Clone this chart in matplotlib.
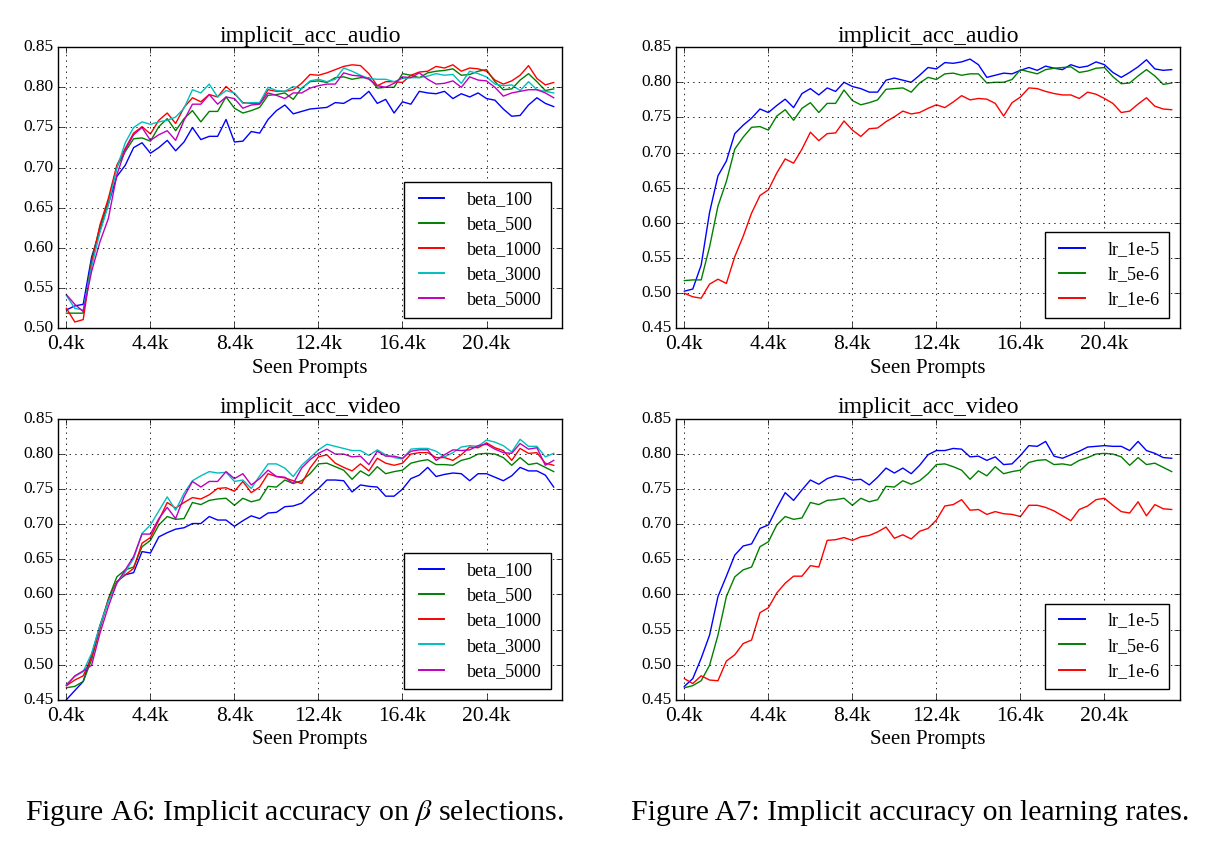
import numpy as np
import matplotlib
matplotlib.use("Agg")
import matplotlib.pyplot as plt

plt.style.use("classic")
plt.rcParams["font.family"] = ["Liberation Serif", "DejaVu Serif"]
plt.rcParams["mathtext.fontset"] = "stix"

# seen prompts: 0.4k .. 23.6k, one point every 400
steps = np.arange(1, 60) * 400
tick_pos = [400, 4400, 8400, 12400, 16400, 20400]
tick_lab = ["0.4k", "4.4k", "8.4k", "12.4k", "16.4k", "20.4k"]

beta_labels = ["beta_100", "beta_500", "beta_1000", "beta_3000", "beta_5000"]
beta_colors = ["b", "g", "r", "c", "m"]
lr_labels = ["lr_1e-5", "lr_5e-6", "lr_1e-6"]
lr_colors = ["b", "g", "r"]

# --- implicit_acc_audio, beta sweep
audio_beta100 = [0.523, 0.528, 0.530, 0.589, 0.622, 0.655, 0.689, 0.703, 0.725, 0.731,
                 0.718, 0.725, 0.734, 0.721, 0.732, 0.750, 0.735, 0.739, 0.739, 0.760,
                 0.732, 0.733, 0.745, 0.743, 0.760, 0.771, 0.778, 0.767, 0.770, 0.773,
                 0.774, 0.775, 0.781, 0.780, 0.786, 0.786, 0.795, 0.780, 0.785, 0.768,
                 0.782, 0.779, 0.795, 0.793, 0.792, 0.795, 0.786, 0.792, 0.788, 0.793,
                 0.786, 0.784, 0.773, 0.764, 0.765, 0.778, 0.787, 0.780, 0.776]
audio_beta500 = [0.519, 0.519, 0.519, 0.585, 0.627, 0.658, 0.701, 0.720, 0.736, 0.737,
                 0.733, 0.751, 0.761, 0.746, 0.761, 0.771, 0.757, 0.770, 0.770, 0.788,
                 0.774, 0.768, 0.771, 0.775, 0.790, 0.791, 0.793, 0.785, 0.799, 0.807,
                 0.808, 0.806, 0.812, 0.813, 0.810, 0.812, 0.812, 0.799, 0.800, 0.800,
                 0.817, 0.815, 0.812, 0.818, 0.820, 0.821, 0.823, 0.815, 0.816, 0.820,
                 0.822, 0.807, 0.797, 0.798, 0.809, 0.817, 0.807, 0.796, 0.798]
audio_beta1000 = [0.525, 0.508, 0.511, 0.581, 0.629, 0.662, 0.703, 0.724, 0.743, 0.751,
                  0.742, 0.759, 0.768, 0.755, 0.775, 0.787, 0.782, 0.791, 0.788, 0.801,
                  0.792, 0.781, 0.780, 0.780, 0.797, 0.795, 0.795, 0.797, 0.805, 0.816,
                  0.815, 0.818, 0.822, 0.826, 0.828, 0.827, 0.817, 0.802, 0.807, 0.807,
                  0.806, 0.815, 0.819, 0.820, 0.826, 0.824, 0.828, 0.820, 0.824, 0.823,
                  0.820, 0.809, 0.804, 0.808, 0.815, 0.827, 0.811, 0.803, 0.806]
audio_beta3000 = [0.541, 0.525, 0.523, 0.577, 0.620, 0.654, 0.699, 0.731, 0.750, 0.757,
                  0.754, 0.757, 0.759, 0.763, 0.774, 0.797, 0.793, 0.804, 0.788, 0.796,
                  0.793, 0.780, 0.781, 0.781, 0.800, 0.796, 0.795, 0.801, 0.798, 0.808,
                  0.810, 0.807, 0.810, 0.824, 0.820, 0.815, 0.811, 0.810, 0.810, 0.807,
                  0.811, 0.812, 0.812, 0.814, 0.817, 0.815, 0.816, 0.805, 0.820, 0.817,
                  0.813, 0.804, 0.802, 0.803, 0.796, 0.807, 0.797, 0.795, 0.793]
audio_beta5000 = [0.542, 0.530, 0.521, 0.571, 0.608, 0.637, 0.691, 0.722, 0.741, 0.750,
                  0.734, 0.741, 0.746, 0.734, 0.759, 0.779, 0.779, 0.791, 0.779, 0.788,
                  0.786, 0.774, 0.778, 0.779, 0.793, 0.790, 0.786, 0.793, 0.793, 0.799,
                  0.802, 0.804, 0.804, 0.818, 0.815, 0.814, 0.810, 0.802, 0.800, 0.805,
                  0.813, 0.812, 0.818, 0.810, 0.804, 0.805, 0.808, 0.800, 0.813, 0.809,
                  0.808, 0.800, 0.789, 0.793, 0.795, 0.797, 0.797, 0.793, 0.787]

# --- implicit_acc_audio, learning-rate sweep
audio_lr1e5 = [0.503, 0.506, 0.540, 0.615, 0.667, 0.688, 0.727, 0.739, 0.749, 0.762,
               0.757, 0.767, 0.776, 0.764, 0.784, 0.791, 0.782, 0.792, 0.787, 0.800,
               0.794, 0.791, 0.786, 0.786, 0.803, 0.806, 0.803, 0.800, 0.810, 0.821,
               0.819, 0.828, 0.827, 0.829, 0.833, 0.825, 0.807, 0.810, 0.813, 0.812,
               0.817, 0.821, 0.817, 0.823, 0.820, 0.818, 0.825, 0.821, 0.823, 0.829,
               0.825, 0.814, 0.807, 0.814, 0.822, 0.832, 0.819, 0.817, 0.818]
audio_lr5e6 = [0.518, 0.519, 0.519, 0.566, 0.624, 0.659, 0.705, 0.722, 0.736, 0.737,
               0.732, 0.752, 0.761, 0.746, 0.763, 0.771, 0.757, 0.770, 0.770, 0.789,
               0.774, 0.768, 0.771, 0.775, 0.790, 0.791, 0.792, 0.786, 0.799, 0.807,
               0.804, 0.812, 0.813, 0.810, 0.812, 0.812, 0.799, 0.800, 0.800, 0.804,
               0.818, 0.815, 0.812, 0.818, 0.820, 0.821, 0.822, 0.814, 0.816, 0.820,
               0.821, 0.808, 0.798, 0.799, 0.809, 0.818, 0.809, 0.797, 0.799]
audio_lr1e6 = [0.500, 0.495, 0.493, 0.513, 0.520, 0.514, 0.552, 0.581, 0.614, 0.639,
               0.647, 0.671, 0.691, 0.685, 0.705, 0.729, 0.717, 0.727, 0.728, 0.745,
               0.732, 0.723, 0.734, 0.735, 0.744, 0.751, 0.759, 0.755, 0.757, 0.763,
               0.768, 0.764, 0.772, 0.781, 0.775, 0.777, 0.776, 0.770, 0.752, 0.771,
               0.779, 0.792, 0.791, 0.787, 0.784, 0.782, 0.782, 0.777, 0.786, 0.783,
               0.777, 0.770, 0.757, 0.759, 0.769, 0.778, 0.766, 0.762, 0.761]

# --- implicit_acc_video, beta sweep
video_beta100 = [0.450, 0.463, 0.476, 0.514, 0.556, 0.592, 0.618, 0.628, 0.631, 0.661,
                 0.659, 0.682, 0.688, 0.693, 0.695, 0.701, 0.701, 0.711, 0.706, 0.706,
                 0.697, 0.705, 0.712, 0.708, 0.716, 0.717, 0.725, 0.726, 0.730, 0.741,
                 0.751, 0.763, 0.763, 0.762, 0.746, 0.756, 0.754, 0.753, 0.740, 0.740,
                 0.750, 0.765, 0.770, 0.781, 0.768, 0.771, 0.773, 0.772, 0.762, 0.772,
                 0.772, 0.767, 0.762, 0.769, 0.781, 0.776, 0.776, 0.770, 0.753]
video_beta500 = [0.467, 0.469, 0.476, 0.507, 0.552, 0.594, 0.625, 0.635, 0.639, 0.668,
                 0.677, 0.699, 0.711, 0.707, 0.708, 0.731, 0.728, 0.734, 0.736, 0.737,
                 0.727, 0.737, 0.732, 0.735, 0.754, 0.753, 0.763, 0.758, 0.762, 0.772,
                 0.786, 0.787, 0.782, 0.777, 0.764, 0.776, 0.769, 0.782, 0.772, 0.775,
                 0.777, 0.787, 0.790, 0.792, 0.785, 0.785, 0.784, 0.791, 0.794, 0.800,
                 0.801, 0.800, 0.795, 0.784, 0.795, 0.785, 0.787, 0.781, 0.775]
video_beta1000 = [0.470, 0.478, 0.484, 0.511, 0.554, 0.592, 0.618, 0.628, 0.637, 0.673,
                  0.681, 0.706, 0.731, 0.723, 0.731, 0.738, 0.736, 0.742, 0.751, 0.752,
                  0.747, 0.761, 0.745, 0.753, 0.772, 0.768, 0.766, 0.762, 0.758, 0.780,
                  0.796, 0.799, 0.787, 0.781, 0.776, 0.786, 0.776, 0.794, 0.787, 0.784,
                  0.787, 0.800, 0.802, 0.802, 0.795, 0.795, 0.791, 0.799, 0.810, 0.809,
                  0.816, 0.809, 0.805, 0.791, 0.808, 0.801, 0.802, 0.787, 0.784]
video_beta3000 = [0.472, 0.483, 0.490, 0.516, 0.556, 0.590, 0.616, 0.632, 0.651, 0.687,
                  0.699, 0.719, 0.739, 0.720, 0.744, 0.762, 0.769, 0.775, 0.773, 0.774,
                  0.761, 0.763, 0.751, 0.769, 0.786, 0.786, 0.780, 0.768, 0.784, 0.795,
                  0.806, 0.814, 0.811, 0.808, 0.805, 0.805, 0.798, 0.806, 0.799, 0.795,
                  0.793, 0.807, 0.808, 0.808, 0.804, 0.796, 0.802, 0.810, 0.812, 0.811,
                  0.820, 0.817, 0.812, 0.803, 0.821, 0.811, 0.811, 0.796, 0.801]
video_beta5000 = [0.470, 0.484, 0.491, 0.499, 0.545, 0.583, 0.616, 0.635, 0.654, 0.686,
                  0.686, 0.708, 0.724, 0.708, 0.739, 0.761, 0.753, 0.761, 0.761, 0.775,
                  0.765, 0.772, 0.756, 0.765, 0.777, 0.768, 0.767, 0.758, 0.780, 0.792,
                  0.801, 0.807, 0.800, 0.800, 0.796, 0.797, 0.785, 0.804, 0.797, 0.797,
                  0.794, 0.804, 0.806, 0.806, 0.791, 0.799, 0.806, 0.805, 0.806, 0.812,
                  0.814, 0.807, 0.802, 0.801, 0.815, 0.807, 0.809, 0.784, 0.791]

# --- implicit_acc_video, learning-rate sweep
video_lr1e5 = [0.469, 0.480, 0.509, 0.542, 0.597, 0.626, 0.656, 0.669, 0.672, 0.694,
               0.699, 0.723, 0.745, 0.734, 0.749, 0.763, 0.757, 0.765, 0.769, 0.767,
               0.763, 0.764, 0.756, 0.767, 0.780, 0.773, 0.780, 0.772, 0.784, 0.799,
               0.805, 0.805, 0.808, 0.807, 0.796, 0.797, 0.791, 0.796, 0.785, 0.786,
               0.798, 0.812, 0.811, 0.818, 0.797, 0.794, 0.799, 0.804, 0.810, 0.811,
               0.812, 0.811, 0.811, 0.805, 0.818, 0.805, 0.801, 0.795, 0.794]
video_lr5e6 = [0.467, 0.470, 0.477, 0.499, 0.542, 0.597, 0.625, 0.635, 0.639, 0.668,
               0.675, 0.699, 0.711, 0.707, 0.709, 0.731, 0.728, 0.734, 0.735, 0.737,
               0.727, 0.737, 0.732, 0.735, 0.754, 0.753, 0.762, 0.757, 0.762, 0.772,
               0.785, 0.786, 0.782, 0.777, 0.764, 0.776, 0.769, 0.782, 0.772, 0.775,
               0.777, 0.788, 0.791, 0.792, 0.785, 0.786, 0.784, 0.791, 0.795, 0.800,
               0.801, 0.800, 0.796, 0.784, 0.795, 0.785, 0.787, 0.781, 0.775]
video_lr1e6 = [0.480, 0.473, 0.484, 0.478, 0.477, 0.505, 0.514, 0.530, 0.535, 0.574,
               0.581, 0.602, 0.616, 0.626, 0.626, 0.641, 0.639, 0.677, 0.678, 0.681,
               0.677, 0.682, 0.684, 0.689, 0.696, 0.680, 0.685, 0.679, 0.690, 0.694,
               0.706, 0.726, 0.728, 0.735, 0.720, 0.721, 0.714, 0.718, 0.715, 0.714,
               0.711, 0.727, 0.727, 0.724, 0.719, 0.712, 0.705, 0.721, 0.726, 0.735,
               0.737, 0.727, 0.718, 0.716, 0.732, 0.712, 0.728, 0.722, 0.721]


def draw(ax, title, series, labels, colors, ymin):
    for ys, lab, col in zip(series, labels, colors):
        ax.plot(steps, ys, color=col, lw=1.0, label=lab)
    ax.set_xlim(0, 24000)
    ax.set_ylim(ymin, 0.85)
    ax.set_yticks(np.arange(ymin, 0.851, 0.05))
    ax.yaxis.set_major_formatter(matplotlib.ticker.FormatStrFormatter("%.2f"))
    ax.set_xticks(tick_pos)
    ax.set_xticklabels(tick_lab)
    ax.tick_params(axis="x", labelsize=15.5, pad=5)
    ax.tick_params(axis="y", labelsize=12.5, pad=3)
    ax.grid(True, color="k", linestyle=":", linewidth=0.6)
    ax.set_title(title, fontsize=17, pad=4)
    ax.set_xlabel("Seen Prompts", fontsize=15, labelpad=3)
    leg = ax.legend(loc="lower right", fontsize=13, handlelength=2.0,
                    handletextpad=1.0, labelspacing=0.45, borderpad=0.5,
                    borderaxespad=0.6, frameon=True)
    for ln in leg.get_lines():
        ln.set_linewidth(1.4)


fig = plt.figure(figsize=(12.06, 8.43), dpi=100, facecolor="white")
ax1 = fig.add_axes([0.0481, 0.6104, 0.418, 0.3337])
ax2 = fig.add_axes([0.5605, 0.6104, 0.418, 0.3337])
ax3 = fig.add_axes([0.0481, 0.1700, 0.418, 0.3330])
ax4 = fig.add_axes([0.5605, 0.1700, 0.418, 0.3330])

draw(ax1, "implicit_acc_audio",
     [audio_beta100, audio_beta500, audio_beta1000, audio_beta3000, audio_beta5000],
     beta_labels, beta_colors, 0.50)
draw(ax2, "implicit_acc_audio", [audio_lr1e5, audio_lr5e6, audio_lr1e6],
     lr_labels, lr_colors, 0.45)
draw(ax3, "implicit_acc_video",
     [video_beta100, video_beta500, video_beta1000, video_beta3000, video_beta5000],
     beta_labels, beta_colors, 0.45)
draw(ax4, "implicit_acc_video", [video_lr1e5, video_lr5e6, video_lr1e6],
     lr_labels, lr_colors, 0.45)

fig.text(0.244, 0.036, r"Figure A6: Implicit accuracy on $\beta$ selections.",
         ha="center", va="center", fontsize=21.5)
fig.text(0.755, 0.036, "Figure A7: Implicit accuracy on learning rates.",
         ha="center", va="center", fontsize=21.5)

fig.savefig("out.png", dpi=100, facecolor="white")
